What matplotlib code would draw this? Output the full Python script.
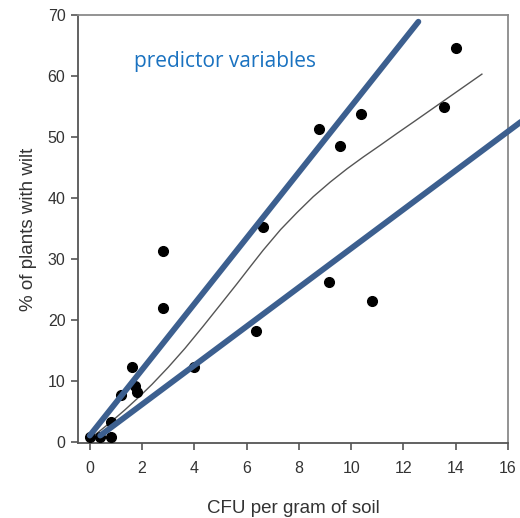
import matplotlib
matplotlib.use("Agg")
import matplotlib.pyplot as plt

# observed points
cfu = [0.0, 0.4, 0.8, 0.8, 1.2, 1.6, 1.72, 1.8, 2.8, 2.8, 4.0, 6.36, 6.63,
       8.77, 9.16, 9.58, 10.38, 10.8, 13.56, 14.0]
wilt = [0.8, 0.7, 0.7, 3.2, 7.7, 12.3, 9.2, 8.2, 22.0, 31.3, 12.3, 18.2, 35.3,
        51.3, 26.2, 48.5, 53.7, 23.1, 54.9, 64.6]

# fitted curve
fit_x = [0, 0.31, 0.8, 1.34, 1.9, 2.38, 3.0, 3.64, 4.33, 5.0, 5.63, 6.1,
         6.63, 7.3, 7.93, 8.55, 9.2, 9.85, 10.46, 11.1, 11.76, 12.4, 13.0,
         13.6, 14.2, 15.0]
fit_y = [0.5, 1.5, 3.2, 5.2, 7.4, 9.4, 12.2, 15.3, 18.9, 22.5, 25.9, 28.5,
         31.4, 34.8, 37.6, 40.2, 42.6, 44.8, 46.7, 48.6, 50.6, 52.5, 54.3,
         56.1, 57.9, 60.3]

# the two hand drawn lines
upper_x = [0.0, 12.57]
upper_y = [1.0, 68.9]
lower_x = [0.4, 17.0]
lower_y = [1.0, 54.1]

xticks = list(range(0, 17, 2))
yticks = list(range(0, 71, 10))

plt.rcParams['font.family'] = ['Liberation Sans', 'DejaVu Sans']

fig = plt.figure(figsize=(5.2, 5.18), dpi=100)
ax = fig.add_axes([0.15, 0.145, 0.827, 0.826])

ax.plot(fit_x, fit_y, color='#555555', lw=1.0, zorder=2)
ax.plot(cfu, wilt, 'o', color='black', ms=7, zorder=3)
ax.plot(upper_x, upper_y, color='#3c5f8f', lw=4.2, solid_capstyle='round',
        clip_on=False, zorder=4)
ax.plot(lower_x, lower_y, color='#3c5f8f', lw=4.2, solid_capstyle='round',
        clip_on=False, zorder=4)

ax.set_xlim(-0.45, 16)
ax.set_ylim(-0.2, 70)
ax.set_xticks(xticks)
ax.set_yticks(yticks)
ax.tick_params(direction='out', length=5, width=1.2, colors='#555555',
               labelcolor='#333333', labelsize=11.5)
ax.tick_params(axis='x', pad=8)
ax.tick_params(axis='y', pad=4)

for side in ['left', 'bottom']:
    ax.spines[side].set_color('#555555')
    ax.spines[side].set_linewidth(1.3)
for side in ['top', 'right']:
    ax.spines[side].set_color('#8a8a8a')
    ax.spines[side].set_linewidth(1.3)

ax.set_xlabel("CFU per gram of soil", fontsize=13.5, color='#333333', labelpad=17)
ax.set_ylabel("% of plants with wilt", fontsize=13.5, color='#333333', labelpad=8)

ax.text(1.7, 61.5, "predictor variables", fontsize=15, color='#1a72c0',
        family=['Open Sans', 'DejaVu Sans'])

fig.savefig("out.png", dpi=100)
